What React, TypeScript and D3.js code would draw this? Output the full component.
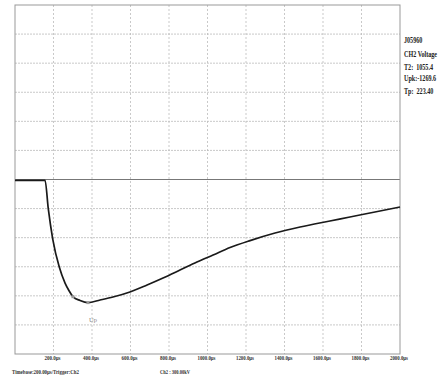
import React from "react";
import * as d3 from "d3";

const timeUs = [0, 156, 173, 196, 230, 260, 280, 301, 338, 379, 442, 509, 597, 686, 769, 857, 945, 1029, 1117, 1221, 1351, 1481, 1636, 1740, 1870, 2000];
const voltKV = [-8, -8, -304, -614, -903, -1068, -1145, -1209, -1248, -1270, -1243, -1212, -1160, -1088, -1016, -934, -851, -779, -702, -630, -552, -490, -428, -387, -335, -284];
const xTicks = [200, 400, 600, 800, 1000, 1200, 1400, 1600, 1800, 2000];
const xTickLabels = ["200.0μs", "400.0μs", "600.0μs", "800.0μs", "1000.0μs", "1200.0μs", "1400.0μs", "1600.0μs", "1800.0μs", "2000.0μs"];
const yGrid = [-1800, -1500, -1200, -900, -600, -300, 0, 300, 600, 900, 1200, 1500, 1800];
const infoLines = ["J05960", "CH2 Voltage", "T2:  1055.4", "Upk:-1269.6", "Tp:  223.40"];
const markerTimes = [301, 379];
const markerVolts = [-1209, -1270];

export default function App() {
  const left = 15, right = 400, top = 5, bottom = 354;
  const x = d3.scaleLinear().domain([0, 2000]).range([left, right]);
  const y = d3.scaleLinear().domain([-1800, 1800]).range([bottom, top]);
  const pts: [number, number][] = timeUs.map((t, i) => [t, voltKV[i]]);
  const line = d3.line<[number, number]>().x(d => x(d[0])).y(d => y(d[1])).curve(d3.curveMonotoneX);
  const font = "'Liberation Serif', 'Times New Roman', serif";
  const infoY = [43, 57, 70, 81, 94];
  return (
    <svg width={438} height={380} style={{ position: "absolute", left: 0, top: 0, background: "#fff" }}>
      <rect x={0} y={0} width={438} height={380} fill="#fff" />
      {xTicks.slice(0, -1).map(t => (
        <line key={"vx" + t} x1={x(t)} x2={x(t)} y1={top} y2={bottom} stroke="#bbb" strokeWidth={0.8} strokeDasharray="2,2" />
      ))}
      {yGrid.filter(v => v !== 0 && Math.abs(v) !== 1800).map(v => (
        <line key={"hy" + v} x1={left} x2={right} y1={y(v)} y2={y(v)} stroke="#bbb" strokeWidth={0.8} strokeDasharray="2,1" />
      ))}
      <line x1={left} x2={right} y1={y(0)} y2={y(0)} stroke="#777" strokeWidth={1} />
      <rect x={left} y={top} width={right - left} height={bottom - top} fill="none" stroke="#999" strokeWidth={1} />
      <path d={line(pts) || ""} fill="none" stroke="#1a1a1a" strokeWidth={1.7} />
      {markerTimes.map((t, i) => (
        <rect key={"m" + i} x={x(t) - 1.5} y={y(markerVolts[i]) - 1.5} width={3} height={3} fill="#999" />
      ))}
      <text x={x(379) + 1} y={y(-1270) + 19} fontFamily={font} fontSize={6.5} fill="#888">Up</text>
      {xTicks.map((t, i) => (
        <text key={"xt" + t} x={x(t) - 1} y={360} fontFamily={font} fontSize={7} fontWeight="bold" fill="#333" textAnchor="middle"
          textLength={t >= 1000 ? 18 : 16} lengthAdjust="spacingAndGlyphs">{xTickLabels[i]}</text>
      ))}
      <text x={12} y={374} fontFamily={font} fontSize={7} fontWeight="bold" fill="#333" textLength={67} lengthAdjust="spacingAndGlyphs">Timebase:200.00μs/Trigger:Ch2</text>
      <text x={160} y={374} fontFamily={font} fontSize={7} fontWeight="bold" fill="#333" textLength={30} lengthAdjust="spacingAndGlyphs">Ch2 : 300.00kV</text>
      {infoLines.map((s, i) => (
        <g key={"info" + i} transform={`translate(404,${infoY[i]}) scale(0.72,1)`}>
          <text x={0} y={0} fontFamily={font} fontSize={8.5} fontWeight="bold" fill="#222" xmlSpace="preserve">{s}</text>
        </g>
      ))}
    </svg>
  );
}
